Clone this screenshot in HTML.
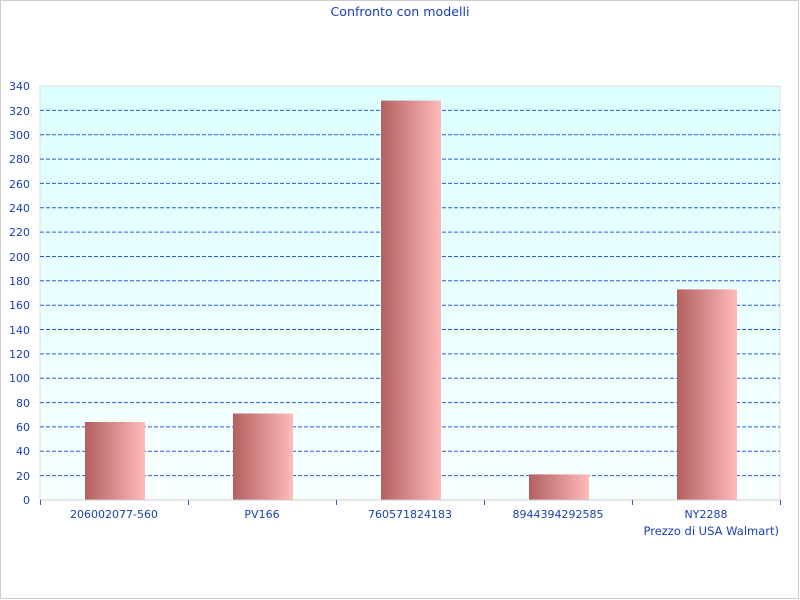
<!DOCTYPE html>
<html><head><meta charset="utf-8"><style>body{margin:0}svg{display:block}</style></head><body>
<svg width="800" height="600" xmlns="http://www.w3.org/2000/svg" font-family="DejaVu Sans, Liberation Sans, sans-serif">
<defs>
<linearGradient id="bg" x1="0" y1="0" x2="0" y2="1"><stop offset="0" stop-color="#dcffff"/><stop offset="1" stop-color="#f8ffff"/></linearGradient>
<linearGradient id="bar" x1="0" y1="0" x2="1" y2="0"><stop offset="0" stop-color="#b36060"/><stop offset="1" stop-color="#ffbaba"/></linearGradient>
</defs>
<rect x="0.5" y="0.5" width="798" height="598" fill="#fff" stroke="#cccccc"/>
<text x="400" y="16" text-anchor="middle" font-size="12.6" fill="#1a3fb0">Confronto con modelli</text>
<rect x="40" y="86" width="740" height="414" fill="url(#bg)" stroke="#dddddd"/>
<g stroke="#2a5bd7" stroke-dasharray="4,2" stroke-width="1">
<line x1="40" x2="780" y1="475.6" y2="475.6"/><line x1="40" x2="780" y1="451.3" y2="451.3"/><line x1="40" x2="780" y1="426.9" y2="426.9"/><line x1="40" x2="780" y1="402.6" y2="402.6"/><line x1="40" x2="780" y1="378.2" y2="378.2"/><line x1="40" x2="780" y1="353.9" y2="353.9"/><line x1="40" x2="780" y1="329.5" y2="329.5"/><line x1="40" x2="780" y1="305.2" y2="305.2"/><line x1="40" x2="780" y1="280.8" y2="280.8"/><line x1="40" x2="780" y1="256.5" y2="256.5"/><line x1="40" x2="780" y1="232.1" y2="232.1"/><line x1="40" x2="780" y1="207.8" y2="207.8"/><line x1="40" x2="780" y1="183.4" y2="183.4"/><line x1="40" x2="780" y1="159.1" y2="159.1"/><line x1="40" x2="780" y1="134.7" y2="134.7"/><line x1="40" x2="780" y1="110.4" y2="110.4"/>
</g>
<g fill="url(#bar)">
<rect x="85" y="422" width="60" height="78"/>
<rect x="233" y="413.5" width="60" height="86.5"/>
<rect x="381" y="100.6" width="60" height="399.4"/>
<rect x="529" y="474.4" width="60" height="25.6"/>
<rect x="677" y="289.4" width="60" height="210.6"/>
</g>
<line x1="40" x2="780" y1="500" y2="500" stroke="#cccccc"/>
<g stroke="#2a5bd7"><line x1="40.5" x2="40.5" y1="500" y2="505"/><line x1="188.5" x2="188.5" y1="500" y2="505"/><line x1="336.5" x2="336.5" y1="500" y2="505"/><line x1="484.5" x2="484.5" y1="500" y2="505"/><line x1="632.5" x2="632.5" y1="500" y2="505"/><line x1="780.5" x2="780.5" y1="500" y2="505"/></g>
<g font-size="11" fill="#1a3fb0" text-anchor="end">
<text x="30" y="504">0</text><text x="30" y="480">20</text><text x="30" y="455">40</text><text x="30" y="431">60</text><text x="30" y="407">80</text><text x="30" y="382">100</text><text x="30" y="358">120</text><text x="30" y="334">140</text><text x="30" y="309">160</text><text x="30" y="285">180</text><text x="30" y="261">200</text><text x="30" y="236">220</text><text x="30" y="212">240</text><text x="30" y="188">260</text><text x="30" y="163">280</text><text x="30" y="139">300</text><text x="30" y="115">320</text><text x="30" y="90">340</text>
</g>
<g font-size="11" fill="#1a3fb0" text-anchor="middle">
<text x="114" y="518">206002077-560</text><text x="262" y="518">PV166</text><text x="410" y="518">760571824183</text><text x="558" y="518">8944394292585</text><text x="706" y="518">NY2288</text>
</g>
<text x="779" y="535" font-size="11.5" fill="#1a3fb0" text-anchor="end">Prezzo di USA Walmart)</text>
</svg>
</body></html>
